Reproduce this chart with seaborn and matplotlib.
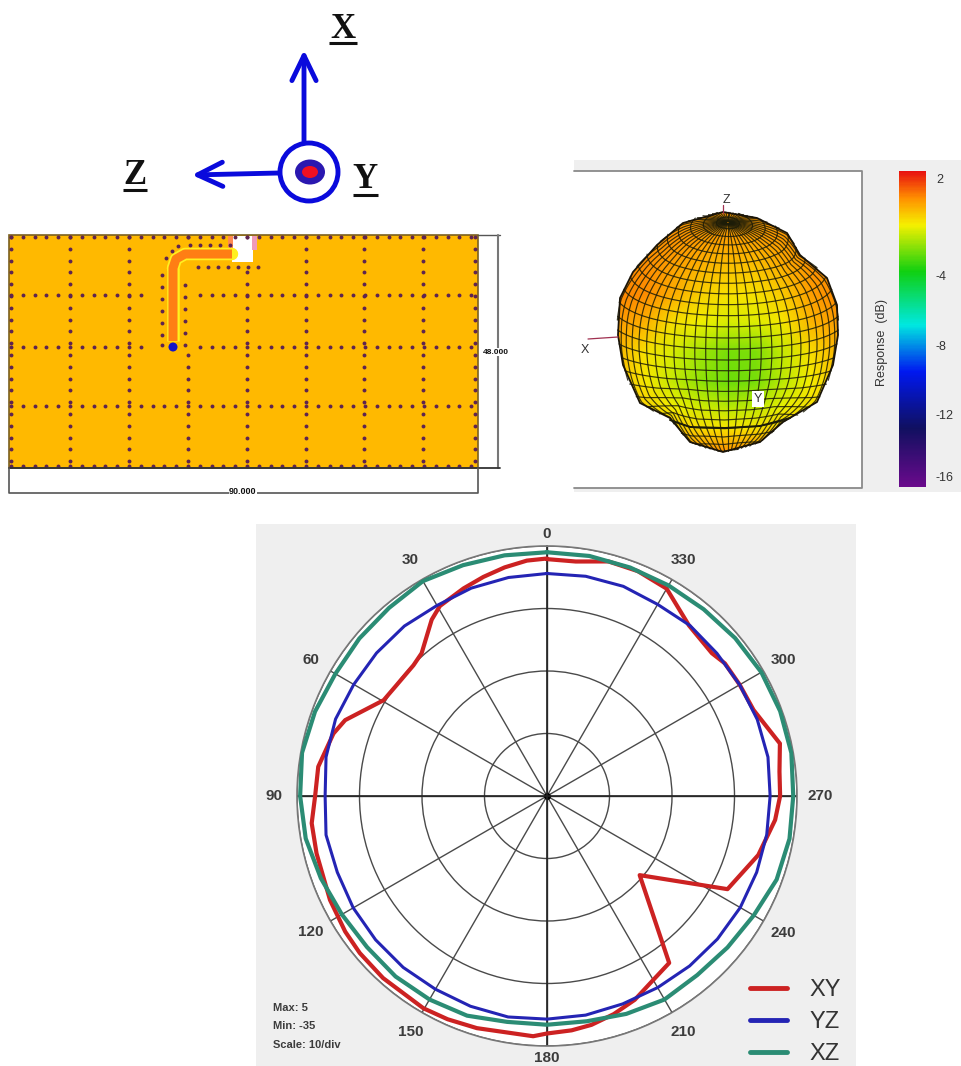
import numpy as np
import pandas as pd
import seaborn as sns
import matplotlib
matplotlib.use("Agg")
import matplotlib.pyplot as plt
from matplotlib.colors import LinearSegmentedColormap, Normalize
from matplotlib.patches import Rectangle, Ellipse, Polygon, FancyArrowPatch

# ---------- polar pattern data (angle in degrees, response in dB) ----------
xy_angle = [0, 4.9, 10.5, 16.2, 21.9, 29.4, 33.2, 41.3, 45.6, 53.6, 59.6, 69.4, 73.7, 82.7, 90,
            96.6, 104, 115.6, 123.9, 130, 138, 149.8, 156, 163.2, 176.7, 180, 186, 191, 197, 203.3, 209.4, 216.2,
            229.5, 242.7, 254.4, 264, 270, 276, 282.7, 292.6, 300, 306.7, 310.9, 320.2, 330, 338, 345.3, 353, 360]
xy_db = [3.0, 2.8, 2.2, 1.5, 0.8, -0.1, -1.3, -4.6, -5.1, -5.1, -4.7, -0.5, 0.6, 1.9, 2.1,
         2.9, 3.0, 3.5, 3.9, 4.1, 4.2, 4.3, 4.1, 3.8, 3.5, 3.0, 2.7, 2.3, 1.5, 0.5, -0.9, -1.9,
         -15.5, -2.5, 0.1, 1.7, 2.3, 2.4, 3.2, 0.8, 0.6, 0.5, -0.1, 0.5, 3.3, 3.8, 3.8, 2.8, 2.9]
yz_angle = list(range(0, 361, 10))
yz_db = [0.6, 0.5, 0.4, 0.2, 0.5, 0.6, 0.7, 1.0, 0.9, 0.5, 0.9, 0.7, 0.8, 0.8, 0.8, 0.7, 0.8, 0.9,
         0.7, 0.6, 0.4, 0.4, 0.5, 0.6, 0.7, 0.7, 0.7, 0.7, 0.9, 0.8, 0.6, 0.5, 0.6, 0.4, 0.7, 0.7, 0.6]
xz_angle = list(range(0, 361, 10))
xz_db = [4.0, 4.1, 4.3, 4.7, 4.3, 4.2, 4.1, 4.5, 4.8, 4.5, 4.2, 3.5, 2.9, 2.6, 2.7, 2.6, 2.4, 1.7,
         1.6, 1.6, 2.1, 2.6, 2.4, 2.7, 3.2, 4.1, 4.4, 4.4, 4.7, 4.7, 4.6, 4.3, 4.0, 3.9, 3.9, 4.0, 4.0]
series_names = ["XY", "YZ", "XZ"]
series_colors = ["#CC2222", "#2424B4", "#2B8C74"]
series_widths = [3.0, 2.2, 3.0]
polar_angles = [0, 30, 60, 90, 120, 150, 180, 210, 240, 270, 300, 330]

# ---------- 3D pattern data ----------
bar_ticks = [2, -4, -8, -12, -16]
# outline of the lobe, pixels on the picture
lobe_x = [723, 757, 787, 800, 827, 837, 838, 833, 817, 783, 760, 723, 690, 670, 640, 623, 618, 620, 633, 657, 683]
lobe_y = [212, 218, 233, 255, 278, 305, 335, 365, 402, 422, 442, 452, 442, 418, 403, 365, 335, 298, 272, 245, 223]
lobe_fold_x = [670, 690, 725, 760, 790]
lobe_fold_y = [420, 427, 428, 426, 418]
# response in dB on a coarse raster over the lobe
lobe_db = [
    [0.7, 0.7, 0.7, 0.7, 0.7, 0.7, 0.7, 0.7, 0.7],
    [0.8, 0.8, 0.8, 0.7, 0.6, 0.6, 0.7, 0.8, 0.8],
    [0.9, 0.9, 0.6, 0.3, 0.1, 0.1, 0.4, 0.8, 0.9],
    [1.0, 0.9, 0.4, -0.2, -0.5, -0.5, -0.1, 0.6, 1.0],
    [0.7, 0.3, -0.4, -0.8, -1.1, -1.0, -0.6, 0.2, 0.7],
    [0.2, -0.5, -1.1, -1.8, -2.3, -2.2, -1.3, -0.4, 0.3],
    [0.0, -0.6, -1.3, -2.0, -2.4, -2.3, -1.5, -0.7, 0.0],
    [0.3, -0.2, -0.7, -1.2, -1.5, -1.4, -0.9, -0.4, 0.2],
    [0.7, 0.4, 0.0, -0.4, -0.6, -0.5, -0.1, 0.3, 0.6],
    [1.0, 1.0, 1.0, 1.0, 0.9, 0.9, 1.0, 1.0, 1.0],
]
lobe_raster_x = [617, 645, 672, 700, 728, 756, 783, 811, 840]
lobe_raster_y = [212, 238, 265, 295, 322, 352, 382, 408, 428, 453]

# ---------- board data (pixels on the picture) ----------
via_rows = [237, 295, 347, 406, 466]
via_cols = [11, 70, 129, 188, 247, 306, 364, 423, 475]
strip_x = [173, 173, 176, 185, 232]
strip_y = [341, 268, 259, 254, 254]
strip_via_x = [162]*7 + [185]*6 + [166, 172, 178, 190, 200, 210, 220, 230, 198, 208, 218, 228, 238, 248, 258]
strip_via_y = [275, 287, 299, 311, 323, 335, 345, 285, 297, 309, 321, 333, 345,
               258, 251, 246, 245, 245, 245, 245, 245, 267, 267, 267, 267, 267, 267, 267]

# ---------- figure ----------
sns.set_theme(style="white")
plt.rcParams["font.family"] = ["Liberation Sans", "DejaVu Sans"]
W, H = 962, 1066
fig = plt.figure(figsize=(W/100, H/100), dpi=100, facecolor="white")

bg = fig.add_axes([0, 0, 1, 1], zorder=0)
bg.set_xlim(0, W)
bg.set_ylim(H, 0)
bg.axis("off")

# --- triad ---
BLUE = "#0A0ADC"
bg.add_patch(FancyArrowPatch((304, 142), (304, 50), arrowstyle="->,head_length=6,head_width=2.9",
                             color=BLUE, lw=3.5, mutation_scale=3, shrinkA=0, shrinkB=0))
bg.add_patch(FancyArrowPatch((279, 173), (192, 175), arrowstyle="->,head_length=6,head_width=2.9",
                             color=BLUE, lw=3.5, mutation_scale=3, shrinkA=0, shrinkB=0))
bg.add_patch(Ellipse((309, 172), 58, 58, fc="none", ec=BLUE, lw=3.5))
bg.add_patch(Ellipse((310, 172), 30, 25, fc="#2A18B0", ec="none"))
bg.add_patch(Ellipse((310, 172), 16, 12, fc="#F01020", ec="none"))
for label, x, y, x0, x1, yu in [("X", 343, 30, 329, 357, 43), ("Z", 135, 176, 123, 147, 190), ("Y", 365, 180, 353, 378, 195)]:
    bg.text(x, y, label, family="Liberation Serif", weight="bold", fontsize=25, color="#111111",
            ha="center", va="center")
    bg.plot([x0, x1], [yu, yu], color="#111111", lw=2.2, solid_capstyle="butt")

# --- board ---
GOLD = "#FFB900"
VIA = "#5E2450"
bg.add_patch(Rectangle((9, 235), 469, 233, fc=GOLD, ec="#7A6020", lw=1.2))
step = 11.8
vx, vy = [], []
for y in via_rows:
    for x in np.arange(11, 476, step):
        vx.append(x); vy.append(y)
for x in via_cols:
    for y in np.arange(237, 467, step):
        vx.append(x); vy.append(y)
vx, vy = np.array(vx), np.array(vy)
drop = ((vx > 152) & (vx < 192) & (vy > 237) & (vy < 352)) | ((vx > 150) & (vx < 262) & (vy > 237) & (vy < 272))
keep = ~drop
bg.plot([173, 173], [268, 341], color="#FFF020", lw=9, solid_capstyle="butt")
bg.plot(strip_x[1:], strip_y[1:], color="#FFF020", lw=9)
bg.plot(strip_x, strip_y, color="#FF7E14", lw=6.5, solid_joinstyle="round", solid_capstyle="butt")
bg.add_patch(Rectangle((232, 236), 21, 26, fc="white", ec="none"))
bg.add_patch(Rectangle((228, 236), 5, 20, fc="#FF8A50", ec="none"))
bg.add_patch(Rectangle((252, 236), 5, 14, fc="#F09AB8", ec="none"))
bg.add_patch(Rectangle((170, 332), 6, 9, fc="#F09AB8", ec="none"))
bg.add_patch(Rectangle((208, 251), 6, 8, fc="#F5A080", ec="none"))
bg.plot(vx[keep], vy[keep], ls="none", marker="o", ms=2.8, mew=0, color=VIA)
bg.plot(strip_via_x, strip_via_y, ls="none", marker="o", ms=2.8, mew=0, color=VIA)
bg.add_patch(Ellipse((173, 347), 9, 9, fc="#1414C8", ec="none"))
bg.plot([478, 500], [235, 235], color="#555555", lw=1)
bg.plot([498, 498], [235, 468], color="#777777", lw=1.5)
bg.plot([9, 500], [468, 468], color="#333333", lw=1.3)
bg.plot([9, 9, 478, 478], [468, 493, 493, 468], color="#555555", lw=1.2)
bg.text(496, 352, "48.000", fontsize=6, weight="bold", ha="center", va="center", color="#111111",
        bbox=dict(fc="white", ec="none", pad=0.5))
bg.text(243, 492, "90.000", fontsize=6.5, weight="bold", ha="center", va="center", color="#111111",
        bbox=dict(fc="white", ec="none", pad=0.5))

# --- 3D pattern panel ---
GREY = "#EFEFEF"
bg.add_patch(Rectangle((574, 160), 388, 332, fc=GREY, ec="none"))
bg.add_patch(Rectangle((574, 171), 288, 317, fc="white", ec="none"))
bg.plot([574, 862, 862, 574], [171, 171, 488, 488], color="#8A8A8A", lw=1.3)

cmap = LinearSegmentedColormap.from_list("response", [
    (0.0, "#6A0A8C"), (0.185, "#101060"), (0.365, "#0018F0"), (0.513, "#00E8E0"),
    (0.683, "#10D010"), (0.83, "#F5F000"), (0.915, "#FF9000"), (1.0, "#E81010")])
norm = Normalize(-16.5, 2.5)

mesh = bg.pcolormesh(lobe_raster_x, lobe_raster_y, np.array(lobe_db), cmap=cmap, norm=norm,
                     shading="gouraud", zorder=2)
outline = Polygon(np.column_stack([lobe_x, lobe_y]), closed=True, fc="none", ec="#1A1408", lw=1.3, zorder=4)
bg.add_patch(outline)
mesh.set_clip_path(outline)

cx, cy = 728, 330
phi = np.arctan2(np.array(lobe_y) - cy, np.array(lobe_x) - cx)
order = np.argsort(phi)
phi_sorted, rad_sorted = phi[order], np.hypot(np.array(lobe_x) - cx, np.array(lobe_y) - cy)[order]
rad_mean = rad_sorted.mean()

def project(lon, lat, tilt=np.radians(12)):
    x = np.cos(lat) * np.sin(lon)
    y = np.sin(lat)
    z = np.cos(lat) * np.cos(lon)
    v = y * np.cos(tilt) - z * np.sin(tilt)
    d = y * np.sin(tilt) + z * np.cos(tilt)
    ang = np.arctan2(-v, x)
    c = np.arccos(np.clip(d, -1, 1))
    rho = np.sin(0.75 * c) / np.sin(0.75 * np.pi / 2)
    r = np.interp(ang, phi_sorted, rad_sorted, period=2 * np.pi)
    r = rad_mean + (r - rad_mean) * rho ** 4
    px, py = cx + rho * r * np.cos(ang), cy + rho * r * np.sin(ang)
    return np.where(d >= 0, px, np.nan), np.where(d >= 0, py, np.nan)

fine = np.radians(np.linspace(-180, 180, 361))
for deg in np.arange(-84, 89, 7):
    px, py = project(fine, np.full_like(fine, np.radians(deg)))
    bg.plot(px, py, color="#1C1C08", lw=0.85, alpha=0.85, zorder=3)
fine_lat = np.radians(np.linspace(-89, 89, 179))
for deg in np.arange(-182, 182, 7):
    px, py = project(np.full_like(fine_lat, np.radians(deg)), fine_lat)
    bg.plot(px, py, color="#1C1C08", lw=0.85, alpha=0.85, zorder=3)
bg.plot(lobe_fold_x, lobe_fold_y, color="#1C1C08", lw=1.4, zorder=4)

bg.plot([588, 618], [339, 337], color="#A03050", lw=0.9, zorder=5)
bg.plot([723, 723], [205, 213], color="#A03050", lw=0.9, zorder=5)
bg.text(726, 200, "Z", fontsize=9, color="#333333", ha="center", va="center", zorder=6)
bg.text(585, 350, "X", fontsize=9, color="#333333", ha="center", va="center", zorder=6)
bg.text(758, 399, "Y", fontsize=9, color="#333333", ha="center", va="center", zorder=6,
        bbox=dict(fc="white", ec="none", pad=1.2))
bg.text(882, 342, "Response  (dB)", fontsize=9, rotation=90, color="#333333", ha="center", va="center")

# colour bar
cax = fig.add_axes([899/W, 1 - 487/H, 27/W, 316/H], zorder=2)
levels = np.linspace(2.5, -16.5, 256).reshape(-1, 1)
sns.heatmap(levels, cmap=cmap, norm=norm, cbar=False, xticklabels=False, yticklabels=False, ax=cax)
cax.set_xlabel(""); cax.set_ylabel("")
for tick in bar_ticks:
    y = np.clip(277 + (-4 - tick) * 17.4, 180, 478)
    bg.text(936, y, str(tick), fontsize=9, color="#333333", ha="left", va="center")

# --- polar panel ---
bg.add_patch(Rectangle((256, 524), 600, 542, fc=GREY, ec="none"))
pax = fig.add_axes([297/W, 1 - 1046/H, 500/W, 500/H], projection="polar", zorder=1, facecolor="white")
frames = []
for name, ang, db in [("XY", xy_angle, xy_db), ("YZ", yz_angle, yz_db), ("XZ", xz_angle, xz_db)]:
    frames.append(pd.DataFrame({"series": name, "theta": np.radians(ang), "db": db}))
data = pd.concat(frames, ignore_index=True)
sns.lineplot(data=data, x="theta", y="db", hue="series", hue_order=series_names,
             palette=dict(zip(series_names, series_colors)), sort=False, estimator=None,
             ax=pax, legend=True, zorder=5)
for line, lw in zip(pax.get_lines(), series_widths):
    line.set_linewidth(lw)
pax.set_theta_zero_location("N")
pax.set_theta_direction(1)
pax.set_ylim(-35, 5)
pax.set_yticks([-25, -15, -5, 5])
pax.set_yticklabels([])
pax.set_xticks(np.radians(polar_angles))
pax.set_xticklabels([])
pax.tick_params(axis="x", length=0)
pax.grid(True, color="#4A4A4A", lw=1.0)
pax.spines["polar"].set_color("#777777")
pax.spines["polar"].set_linewidth(1.2)
pax.set_xlabel(""); pax.set_ylabel("")
for a in polar_angles:
    outer_px = 262 if a in (0, 180) else 273
    pax.text(np.radians(a), outer_px / 6.25 - 35, str(a), fontsize=11, weight="bold", color="#3C3C3C",
             ha="center", va="center", clip_on=False)
pax.plot([0], [-35], marker="o", ms=4, color="black", clip_on=False)
for a, b in [(0, 180), (90, 270)]:
    pax.plot(np.radians([a, a]), [-35, 5], color="#222222", lw=1.2, zorder=2)
    pax.plot(np.radians([b, b]), [-35, 5], color="#222222", lw=1.2, zorder=2)

handles, labels = pax.get_legend_handles_labels()
for h in handles:
    h.set_linewidth(3.5)
leg = pax.legend(handles, labels, loc="upper left", bbox_to_anchor=(743/W, 1 - 972/H), bbox_transform=fig.transFigure,
                 frameon=False, fontsize=17, handlelength=1.55, handletextpad=0.95, labelspacing=0.42,
                 borderpad=0.3, borderaxespad=0)
for t in leg.get_texts():
    t.set_color("#333333")

for text, y in [("Max: 5", 1008), ("Min: -35", 1026), ("Scale: 10/div", 1045)]:
    bg.text(273, y, text, fontsize=8, weight="bold", color="#3C3C3C", ha="left", va="center")

fig.savefig("out.png", dpi=100)
